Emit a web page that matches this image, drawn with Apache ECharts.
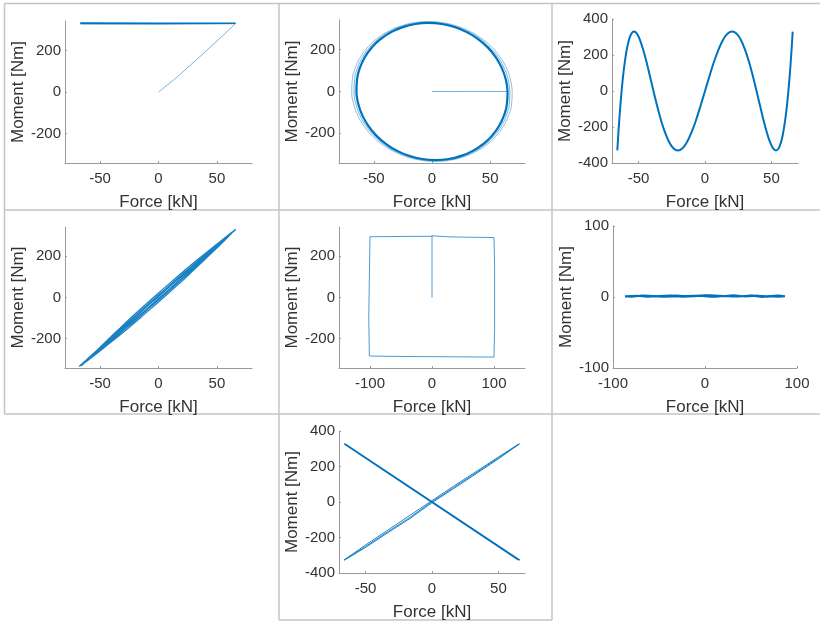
<!DOCTYPE html>
<html>
<head>
<meta charset="utf-8">
<script src="https://cdn.jsdelivr.net/npm/echarts@6.0.0/dist/echarts.min.js"></script>
<style>
html,body{margin:0;padding:0;background:#fff;}
#chart{width:820px;height:621px;}
</style>
</head>
<body>
<div id="chart"></div>
<script>
// ---------- tick labels ----------
const forceTicks50 = [-50, 0, 50];
const forceTicks100 = [-100, 0, 100];
const momentTicks200 = [-200, 0, 200];
const momentTicks400 = [-400, -200, 0, 200, 400];
const momentTicks100 = [-100, 0, 100];

// ---------- panel 1 ----------
const p1RampForce = [0, 8, 15, 25, 35, 45, 55, 66];
const p1RampMoment = [0, 36, 68, 118, 168, 220, 272, 330];
const p1SweepForce = [66, -67, 66, -67, 66, -66, 66];
const p1SweepMoment = [330, 331, 329, 330, 331, 329, 330];

// ---------- panel 2 ----------
const p2RampForce = [0, 20, 40, 55, 66];
const p2RampMoment = [0, 0, 0.5, 0, 0];
const p2OuterForce = [69, 67.5, 63.9, 58.3, 51.0, 42.1, 31.9, 20.8, 9.0, -3, -15.0, -26.4, -37.1, -46.7, -54.8, -61.3, -65.9, -68.5, -69, -67.5, -63.9, -58.3, -51.0, -42.1, -31.9, -20.8, -9.0, 3, 15.0, 26.4, 37.1, 46.7, 54.8, 61.3, 65.9, 68.5, 69];
const p2OuterMoment = [0, 58, 114, 167, 215, 256, 289, 314, 329, 334, 329, 314, 289, 256, 215, 167, 114, 58, 0, -58, -114, -167, -215, -256, -289, -314, -329, -334, -329, -314, -289, -256, -215, -167, -114, -58, 0];
const p2MidForce = [67, 65.5, 62.0, 56.5, 49.4, 40.8, 30.9, 20.1, 8.7, -3, -14.7, -25.7, -36.1, -45.4, -53.2, -59.5, -64.0, -66.5, -67, -65.5, -62.0, -56.5, -49.4, -40.8, -30.9, -20.1, -8.7, 3, 14.7, 25.7, 36.1, 45.4, 53.2, 59.5, 64.0, 66.5, 67];
const p2MidMoment = [0, 58, 113, 166, 213, 254, 287, 311, 326, 331, 326, 311, 287, 254, 213, 166, 113, 58, 0, -58, -113, -166, -213, -254, -287, -311, -326, -331, -326, -311, -287, -254, -213, -166, -113, -58, 0];
const p2CoreForce = [65, 63.5, 60.1, 54.8, 47.9, 39.5, 29.9, 19.4, 8.3, -3, -14.3, -25.0, -35.1, -44.1, -51.7, -57.8, -62.1, -64.5, -65, -63.5, -60.1, -54.8, -47.9, -39.5, -29.9, -19.4, -8.3, 3, 14.3, 25.0, 35.1, 44.1, 51.7, 57.8, 62.1, 64.5, 65];
const p2CoreMoment = [0, 57, 112, 164, 211, 251, 284, 308, 323, 328, 323, 308, 284, 251, 211, 164, 112, 57, 0, -57, -112, -164, -211, -251, -284, -308, -323, -328, -323, -308, -284, -251, -211, -164, -112, -57, 0];

// ---------- panel 3 ----------
const p3Force = [-66, -65.91, -65.64, -65.19, -64.56, -63.75, -62.77, -61.62, -60.29, -58.81, -57.16, -55.35, -53.40, -51.29, -49.05, -46.67, -44.16, -41.54, -38.79, -35.95, -33.0, -29.96, -26.84, -23.65, -20.40, -17.08, -13.72, -10.32, -6.90, -3.45, 0, 3.45, 6.90, 10.32, 13.72, 17.08, 20.40, 23.65, 26.84, 29.96, 33.0, 35.95, 38.79, 41.54, 44.16, 46.67, 49.05, 51.29, 53.40, 55.35, 57.16, 58.81, 60.29, 61.62, 62.77, 63.75, 64.56, 65.19, 65.64, 65.91, 66];
const p3Moment = [-330, -319, -286, -233, -165, -85, 0, 85, 165, 233, 286, 319, 330, 319, 286, 233, 165, 85, 0, -85, -165, -233, -286, -319, -330, -319, -286, -233, -165, -85, 0, 85, 165, 233, 286, 319, 330, 319, 286, 233, 165, 85, 0, -85, -165, -233, -286, -319, -330, -319, -286, -233, -165, -85, 0, 85, 165, 233, 286, 319, 330];

// ---------- panel 4 ----------
const p4Force = [-67, -55, -44, -33, -22, -11, 0, 11, 22, 33, 44, 55, 66,
  55, 44, 33, 22, 11, 0, -11, -22, -33, -44, -55, -66,
  -55, -44, -33, -22, -11, 0, 11, 22, 33, 44, 55, 65,
  55, 44, 33, 22, 11, 0, -11, -22, -33, -44, -55, -68,
  -55, -44, -33, -22, -11, 0, 11, 22, 33, 44, 55, 66,
  55, 44, 33, 22, 11, 0, -11, -22, -33, -44, -55, -66];
const p4Moment = [-332, -279, -227, -174, -121, -67, -12, 43, 99, 156, 213, 271, 331,
  279, 227, 174, 121, 67, 12, -43, -99, -156, -213, -271, -329,
  -282, -232, -182, -130, -76, -22, 34, 90, 149, 208, 268, 326,
  282, 232, 182, 130, 76, 22, -34, -90, -149, -208, -268, -334,
  -277, -223, -169, -114, -60, -5, 50, 106, 161, 217, 273, 330,
  277, 223, 169, 114, 60, 5, -50, -106, -161, -217, -273, -331];

// ---------- panel 5 ----------
const p5Force = [0, 0, 0, 30, 70, 100, 101, 101, 100, 50, 0, -50, -101, -102, -101, -100, -50, 0];
const p5Moment = [0, 150, 299, 294, 292, 291, 150, -150, -289, -288, -287, -286, -284, -100, 100, 295, 296, 297];

// ---------- panel 6 ----------
const p6Force = [-87, -75, -62, -50, -37, -25, -12, 0, 12, 25, 37, 50, 62, 75, 87, 80, 68, 56, 44, 31, 19, 6, -6, -19, -31, -44, -56, -68, -80, -87, -70, -45, -20, 5, 30, 55, 80, 87];
const p6Moment = [0.5, 1.8, 0.2, 1.5, 2.1, 0.4, 1.2, 2.4, 0.3, 1.9, 0.8, 2.2, 0.1, 1.6, 0.9, 2.0, 0.4, 1.7, 0.6, 2.3, 1.0, 0.2, 1.8, 0.7, 2.1, 0.3, 1.4, 2.2, 0.5, 1.1, 1.9, 0.2, 1.5, 2.3, 0.6, 1.8, 0.4, 1.2];

// ---------- panel 7 ----------
const p7DescForce = [-66, 66, -65, 66, -66, 65];
const p7DescMoment = [327, -327, 325, -328, 328, -326];
const p7RiseForce = [-66, -50, -33, -16, 0, 16, 33, 50, 66, 50, 33, 16, 0, -16, -33, -50, -66, -50, -33, -16, 0, 16, 33, 50, 65];
const p7RiseMoment = [-328, -256, -172, -90, -4, 74, 158, 243, 328, 254, 170, 88, 8, -72, -157, -242, -326, -250, -166, -84, 2, 80, 164, 248, 326];

// ---------- styling ----------
const FONT = 'Liberation Sans, Arial, Helvetica, sans-serif';
const TEXT = '#333333';
const AXIS = '#9a9a9a';
const BLUE = '#0072BD';
const BORDER = '#c4c4c4';

const zip = (a, b) => a.map((v, i) => [v, b[i]]);

const panels = [
  {left: 65, top: 21, width: 187, height: 142, x: [-80, 80], y: [-342, 342], xt: forceTicks50, yt: momentTicks200},
  {left: 339, top: 20, width: 186, height: 143, x: [-80, 80], y: [-342, 342], xt: forceTicks50, yt: momentTicks200},
  {left: 612, top: 19, width: 186, height: 144, x: [-70, 70], y: [-400, 400], xt: forceTicks50, yt: momentTicks400},
  {left: 65, top: 227, width: 187, height: 141, x: [-80, 80], y: [-342, 342], xt: forceTicks50, yt: momentTicks200},
  {left: 339, top: 227, width: 186, height: 141, x: [-150, 150], y: [-342, 342], xt: forceTicks100, yt: momentTicks200},
  {left: 613, top: 226, width: 184, height: 142, x: [-100, 100], y: [-100, 100], xt: forceTicks100, yt: momentTicks100},
  {left: 339, top: 431, width: 186, height: 142, x: [-70, 70], y: [-400, 400], xt: forceTicks50, yt: momentTicks400}
];

const grids = [], xAxes = [], yAxes = [];
panels.forEach((p, i) => {
  grids.push({left: p.left, top: p.top, width: p.width, height: p.height, containLabel: false, outerBoundsMode: 'none'});
  xAxes.push({
    type: 'value', gridIndex: i, min: p.x[0], max: p.x[1],
    name: 'Force [kN]', nameLocation: 'middle', nameGap: 31,
    nameTextStyle: {fontSize: 17, color: TEXT, fontFamily: FONT},
    axisLine: {show: true, onZero: false, lineStyle: {color: AXIS, width: 1}},
    axisTick: {show: true, inside: true, length: 2, customValues: p.xt, lineStyle: {color: AXIS}},
    axisLabel: {customValues: p.xt, fontSize: 15, color: TEXT, margin: 8, fontFamily: FONT},
    splitLine: {show: false}
  });
  yAxes.push({
    type: 'value', gridIndex: i, min: p.y[0], max: p.y[1],
    name: 'Moment [Nm]', nameLocation: 'middle', nameGap: 35,
    nameTextStyle: {fontSize: 17, color: TEXT, fontFamily: FONT},
    axisLine: {show: true, onZero: false, lineStyle: {color: AXIS, width: 1}},
    axisTick: {show: true, inside: true, length: 2, customValues: p.yt, lineStyle: {color: AXIS}},
    axisLabel: {customValues: p.yt, fontSize: 15, color: TEXT, margin: 4, fontFamily: FONT},
    splitLine: {show: false}
  });
});

function line(idx, fx, my, width, opacity, smooth) {
  return {
    type: 'line', xAxisIndex: idx, yAxisIndex: idx, data: zip(fx, my),
    showSymbol: false, symbol: 'none', smooth: smooth || false, silent: true,
    lineStyle: {color: BLUE, width: width, opacity: opacity}, animation: false
  };
}

const series = [
  line(0, p1RampForce, p1RampMoment, 1, 0.55, true),
  line(0, p1SweepForce, p1SweepMoment, 1.6, 1, false),
  line(1, p2RampForce, p2RampMoment, 1, 0.55, false),
  line(1, p2OuterForce, p2OuterMoment, 1, 0.45, true),
  line(1, p2MidForce, p2MidMoment, 1, 0.55, true),
  line(1, p2CoreForce, p2CoreMoment, 2.2, 1, true),
  line(2, p3Force, p3Moment, 2, 1, 0.3),
  line(3, p4Force, p4Moment, 1.2, 0.9, true),
  line(4, p5Force, p5Moment, 1, 0.7, false),
  line(5, p6Force, p6Moment, 2, 1, false),
  line(6, p7DescForce, p7DescMoment, 1.5, 1, false),
  line(6, p7RiseForce, p7RiseMoment, 1, 0.85, false)
];

const borderLines = [
  [4.5, 3.5, 4.5, 414], [279, 3.5, 279, 620], [552, 3.5, 552, 620],
  [4.5, 3.5, 820, 3.5], [4.5, 210, 820, 210], [4.5, 414, 820, 414], [279, 620, 552, 620]
];
const graphic = borderLines.map(l => ({
  type: 'line', silent: true,
  shape: {x1: l[0], y1: l[1], x2: l[2], y2: l[3]},
  style: {stroke: BORDER, lineWidth: 1.5}
}));

const chart = echarts.init(document.getElementById('chart'), null, {renderer: 'canvas'});
chart.setOption({
  animation: false,
  backgroundColor: '#ffffff',
  grid: grids, xAxis: xAxes, yAxis: yAxes, series: series, graphic: graphic
});
</script>
</body>
</html>
